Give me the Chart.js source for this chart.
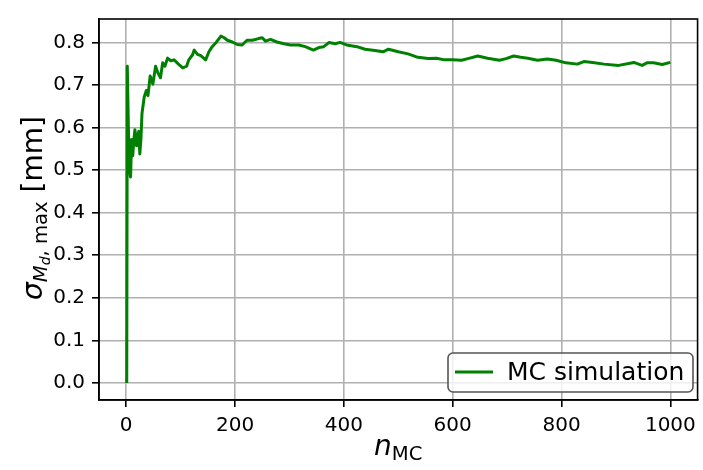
<!DOCTYPE html>
<html lang="en">
<head>
    <meta charset="UTF-8">
    <title>MC simulation</title>
    <script src="https://cdn.jsdelivr.net/npm/chart.js"></script>
    <style>
        html, body { margin: 0; padding: 0; background: #fff; }
        #wrap { width: 703px; height: 470px; }
    </style>
</head>
<body>
<div id="wrap"><canvas id="mcChart"></canvas></div>
<script>
    // number of MC runs and running sigma
    var nValues = [1, 2, 4, 6, 8, 10, 12, 14, 16, 19, 21, 23, 25, 27, 29, 33, 37, 40, 44, 49,
        54, 58, 63, 67, 71, 76, 82, 88, 97, 104, 111, 115, 122, 125, 131, 137, 146, 152, 158, 166,
        174, 180, 186, 195, 204, 213, 222, 232, 243, 250, 256, 265, 277, 290, 302, 317, 329, 344, 354, 363,
        373, 384, 393, 405, 424, 439, 457, 472, 482, 500, 518, 536, 555, 570, 585, 600, 616, 628, 646, 664,
        686, 698, 712, 725, 738, 756, 774, 790, 808, 829, 841, 857, 878, 905, 933, 948, 957, 969, 985, 1000];
    var sigmaValues = [0.000, 0.744, 0.600, 0.500, 0.484, 0.572, 0.534, 0.570, 0.595, 0.557, 0.580, 0.591, 0.538, 0.572, 0.633, 0.671, 0.687, 0.675, 0.721, 0.702,
        0.744, 0.729, 0.717, 0.752, 0.744, 0.763, 0.757, 0.759, 0.748, 0.740, 0.744, 0.759, 0.771, 0.782, 0.772, 0.769, 0.759, 0.778, 0.790, 0.801,
        0.815, 0.811, 0.805, 0.801, 0.795, 0.794, 0.805, 0.805, 0.809, 0.811, 0.803, 0.807, 0.801, 0.797, 0.794, 0.794, 0.790, 0.782, 0.788, 0.790,
        0.800, 0.797, 0.800, 0.794, 0.790, 0.784, 0.781, 0.778, 0.784, 0.778, 0.773, 0.765, 0.762, 0.763, 0.759, 0.759, 0.758, 0.762, 0.768, 0.763,
        0.758, 0.762, 0.768, 0.765, 0.763, 0.758, 0.761, 0.758, 0.752, 0.749, 0.755, 0.753, 0.749, 0.746, 0.753, 0.746, 0.752, 0.752, 0.748, 0.753];
    var xTicks = [0, 200, 400, 600, 800, 1000];
    var yTicks = [0.0, 0.1, 0.2, 0.3, 0.4, 0.5, 0.6, 0.7, 0.8];
    var seriesLabel = 'MC simulation';

    var FONT = "'DejaVu Sans', sans-serif";

    // draw a list of [text, size, italic, shift] pieces one after another
    function pieces(ctx, parts, measureOnly) {
        var x = 0;
        parts.forEach(function (p) {
            ctx.font = (p[2] ? 'italic ' : '') + p[1] + 'px ' + FONT;
            if (!measureOnly) ctx.fillText(p[0], x, p[3]);
            x += ctx.measureText(p[0]).width;
        });
        return x;
    }

    var decorations = {
        id: 'decorations',
        afterDraw: function (chart) {
            var ctx = chart.ctx, a = chart.chartArea;
            ctx.save();
            // frame round the axes
            ctx.strokeStyle = '#000';
            ctx.lineWidth = 1.6;
            ctx.strokeRect(a.left, a.top, a.right - a.left, a.bottom - a.top);

            ctx.fillStyle = '#000';
            ctx.textBaseline = 'alphabetic';
            ctx.textAlign = 'left';

            // x label: n_MC
            var xl = [['n', 28, true, 0], ['MC', 19.6, false, 5]];
            var w = pieces(ctx, xl, true);
            ctx.save();
            ctx.translate((a.left + a.right) / 2 - w / 2, 455);
            pieces(ctx, xl);
            ctx.restore();

            // y label: sigma_{M_d, max} [mm]
            var yl = [['σ', 28, true, 0], ['M', 19.6, true, 5], ['d', 14, true, 8],
                [', max', 19.6, false, 5], [' [mm]', 28, false, 0]];
            w = pieces(ctx, yl, true);
            ctx.save();
            ctx.translate(42, 208);
            ctx.rotate(-Math.PI / 2);
            ctx.translate(-w / 2, 0);
            pieces(ctx, yl);
            ctx.restore();

            // legend, lower right
            var lx = 448, ly = 353, lw = 245, lh = 39;
            ctx.fillStyle = 'rgba(255,255,255,0.8)';
            ctx.strokeStyle = '#555';
            ctx.lineWidth = 1.6;
            ctx.beginPath();
            ctx.roundRect(lx, ly, lw, lh, 5);
            ctx.fill();
            ctx.stroke();
            ctx.strokeStyle = 'green';
            ctx.lineWidth = 3;
            ctx.beginPath();
            ctx.moveTo(455, 372);
            ctx.lineTo(493, 372);
            ctx.stroke();
            ctx.fillStyle = '#000';
            ctx.font = '25px ' + FONT;
            ctx.fillText(seriesLabel, 507, 380);
            ctx.restore();
        }
    };

    var points = nValues.map(function (n, i) { return { x: n, y: sigmaValues[i] }; });

    var ctx = document.getElementById('mcChart').getContext('2d');
    var mcChart = new Chart(ctx, {
        type: 'line',
        data: {
            datasets: [{
                label: seriesLabel,
                data: points,
                borderColor: 'green',
                borderWidth: 3,
                borderJoinStyle: 'round',
                pointRadius: 0,
                tension: 0,
                fill: false
            }]
        },
        options: {
            responsive: true,
            maintainAspectRatio: false,
            animation: false,
            layout: { padding: { top: 10, right: 4, left: 0, bottom: 0 } },
            plugins: {
                legend: { display: false },
                tooltip: { enabled: false }
            },
            scales: {
                x: {
                    type: 'linear',
                    min: -50,
                    max: 1050,
                    afterBuildTicks: function (scale) {
                        scale.ticks = xTicks.map(function (v) { return { value: v }; });
                    },
                    afterFit: function (scale) { scale.height = 70; },
                    grid: { color: '#b0b0b0', lineWidth: 1.6, tickColor: '#000', tickLength: 7, tickWidth: 1.6 },
                    border: { color: '#000', width: 1.6 },
                    ticks: {
                        padding: 7,
                        color: '#000',
                        maxRotation: 0,
                        font: { family: FONT, size: 20 },
                        callback: function (v) { return String(v); }
                    }
                },
                y: {
                    min: -0.04,
                    max: 0.855,
                    afterBuildTicks: function (scale) {
                        scale.ticks = yTicks.map(function (v) { return { value: v }; });
                    },
                    afterFit: function (scale) { scale.width = 99; },
                    grid: { color: '#b0b0b0', lineWidth: 1.6, tickColor: '#000', tickLength: 7, tickWidth: 1.6 },
                    border: { color: '#000', width: 1.6 },
                    ticks: {
                        padding: 7,
                        color: '#000',
                        font: { family: FONT, size: 20 },
                        callback: function (v) { return v.toFixed(1); }
                    }
                }
            }
        },
        plugins: [decorations]
    });
</script>
</body>
</html>
